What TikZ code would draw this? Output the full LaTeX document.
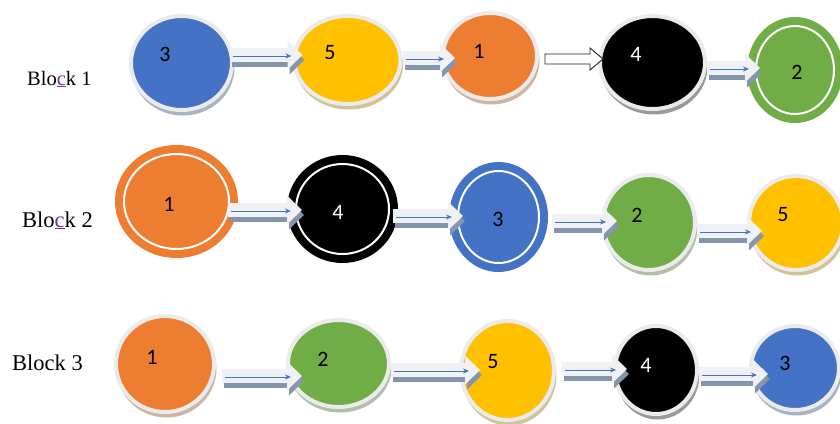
\documentclass[tikz,border=0pt]{standalone}
\usepackage{fontspec}
\setmainfont{Liberation Serif}
\newfontfamily\numfont{Carlito}
\usetikzlibrary{arrows.meta,calc,shapes.geometric}
\definecolor{cblue}{HTML}{4472C4}
\definecolor{cyellow}{HTML}{FFC000}
\definecolor{corange}{HTML}{ED7D31}
\definecolor{cgreen}{HTML}{70AD47}
\definecolor{rimgray}{HTML}{EBEBEB}
\definecolor{arrowlight}{HTML}{F0F1F4}
\definecolor{arrowshadow}{HTML}{8595AE}
\definecolor{spellpurple}{HTML}{7030A0}
\newcommand\spellc[1]{{\color{spellpurple}\underline{#1}}}
\tikzset{
  anchorbox/.style={ellipse, inner sep=0pt, outer sep=0pt, draw=none},
  discfill/.style={fill=#1},
  discrim/.style={draw=rimgray, line width=4pt},
  discshadow/.style={fill=#1!55!black, opacity=0.4},
  ringline/.style={draw=white, line width=2pt},
  num/.style={font=\numfont\fontsize{22}{26}\selectfont, inner sep=0pt, text=#1},
  num/.default=black,
  blocklabel/.style={font=\fontsize{#1}{#1}\selectfont, inner sep=0pt, anchor=base west},
  abody/.style={draw=arrowlight, line width=14pt, -{Triangle[width=28pt,length=15pt]}},
  ashadow/.style={draw=arrowshadow, line width=14pt, -{Triangle[width=28pt,length=15pt]}},
  aline/.style={draw=cblue, line width=1pt, -{Stealth[length=6pt,width=5pt]}},
  openarrow/.style={draw=black!85, fill=white, line width=0.9pt, line join=miter},
}
% plain disc: name, x, y, rx, ry, colour   (rx, ry = coloured part)
\newcommand\plaindisc[6]{%
  \fill[discshadow=#6] (#2+1.5,#3+4.5) ellipse [x radius=#4+3, y radius=#5+3];
  \filldraw[discfill=#6, discrim] (#2,#3) ellipse [x radius=#4+2, y radius=#5+2];
  \node[anchorbox, minimum width=2*#4+8, minimum height=2*#5+8] (#1) at (#2,#3) {};
}
% ring disc: name, x, y, rx, ry, colour  (rx, ry = outer edge)
\newcommand\ringdisc[6]{%
  \fill[discfill=#6] (#2,#3) ellipse [x radius=#4, y radius=#5];
  \draw[ringline] (#2,#3) ellipse [x radius=#4-9, y radius=#5-9];
  \node[anchorbox, minimum width=2*#4, minimum height=2*#5] (#1) at (#2,#3) {};
}
\newcommand\conn[5]{%
  \coordinate (cs0) at (#1.east |- 0,#3);
  \coordinate (ce0) at (#2.west |- 0,#3);
  \coordinate (cs) at ($(cs0)+(#4,0)$);
  \coordinate (ce) at ($(ce0)+(#5,0)$);
  \draw[ashadow] ($(cs)+(2,5)$) -- ($(ce)+(2,5)$);
  \draw[abody] (cs) -- (ce);
  \draw[aline] ($(cs)+(3,1)$) -- ($(ce)+(-11,1)$);
}
\begin{document}
\begin{tikzpicture}[x=1pt,y=-1pt]
\useasboundingbox[fill=white] (0,0) rectangle (840,423);

% ---------- Row 1 ----------
\node[blocklabel=20.5] (blk1) at (27,85) {Blo\spellc{c}k 1};
\plaindisc{a1}{181.5}{63}{48.5}{45}{cblue}
\plaindisc{b1}{347.5}{60}{51}{42}{cyellow}
\plaindisc{c1}{490}{56}{45}{41}{corange}
\plaindisc{d1}{652.5}{62.5}{50.5}{44.5}{black}
\ringdisc{e1}{795}{70}{48}{53}{cgreen}
\node[num] (na1) at (165,54) {3};
\node[num] (nb1) at (330,53) {5};
\node[num] (nc1) at (479,51) {1};
\node[num=white] (nd1) at (636,54) {4};
\node[num] (ne1) at (797,72) {2};
\conn{a1}{b1}{55}{-4}{10}
\conn{b1}{c1}{58}{0}{14}
\coordinate (ws0) at (c1.east |- 0,59);
\coordinate (we0) at (d1.west |- 0,59);
\coordinate (ws) at ($(ws0)+(6,0)$);
\coordinate (we) at ($(we0)+(5,0)$);
\draw[openarrow] ($(ws)+(0,-5)$) -- ($(we)+(-13,-5)$) -- ($(we)+(-13,-11)$) -- (we)
  -- ($(we)+(-13,11)$) -- ($(we)+(-13,5)$) -- ($(ws)+(0,5)$) -- cycle;
\conn{d1}{e1}{68}{0}{13}

% ---------- Row 2 ----------
\node[blocklabel=22.5] (blk2) at (22,227) {Blo\spellc{c}k 2};
\ringdisc{a2}{176.5}{201.5}{61.5}{56.5}{corange}
\ringdisc{b2}{342.5}{209}{55.5}{54}{black}
\ringdisc{c2}{498.5}{217}{49.5}{55}{cblue}
\plaindisc{d2}{649}{222.5}{44}{45.5}{cgreen}
\plaindisc{e2}{796}{223}{45}{45}{cyellow}
\node[num] (na2) at (169,204) {1};
\node[num=white] (nb2) at (338,212) {4};
\node[num] (nc2) at (498,219) {3};
\node[num] (nd2) at (637,215) {2};
\node[num] (ne2) at (783,215) {5};
\conn{a2}{b2}{210}{-10}{15}
\conn{b2}{c2}{216}{-5}{14}
\conn{c2}{d2}{221}{4}{16}
\conn{d2}{e2}{231}{0}{15}

% ---------- Row 3 ----------
\node[blocklabel=22.5] (blk3) at (12,370) {Block 3};
\plaindisc{a3}{165}{364}{47}{46}{corange}
\plaindisc{b3}{338.5}{363.5}{48.5}{41.5}{cgreen}
\plaindisc{c3}{507.5}{370.5}{44.5}{47.5}{cyellow}
\plaindisc{d3}{656}{370}{39}{42}{black}
\plaindisc{e3}{795}{368}{42}{40}{cblue}
\node[num] (na3) at (152,357) {1};
\node[num] (nb3) at (323,359) {2};
\node[num] (nc3) at (493,362) {5};
\node[num=white] (nd3) at (646,365) {4};
\node[num] (ne3) at (785,363) {3};
\conn{a3}{b3}{376}{6}{16}
\conn{b3}{c3}{370}{0}{21}
\conn{c3}{d3}{369}{6}{14}
\conn{d3}{e3}{374}{0}{19}
\end{tikzpicture}
\end{document}
